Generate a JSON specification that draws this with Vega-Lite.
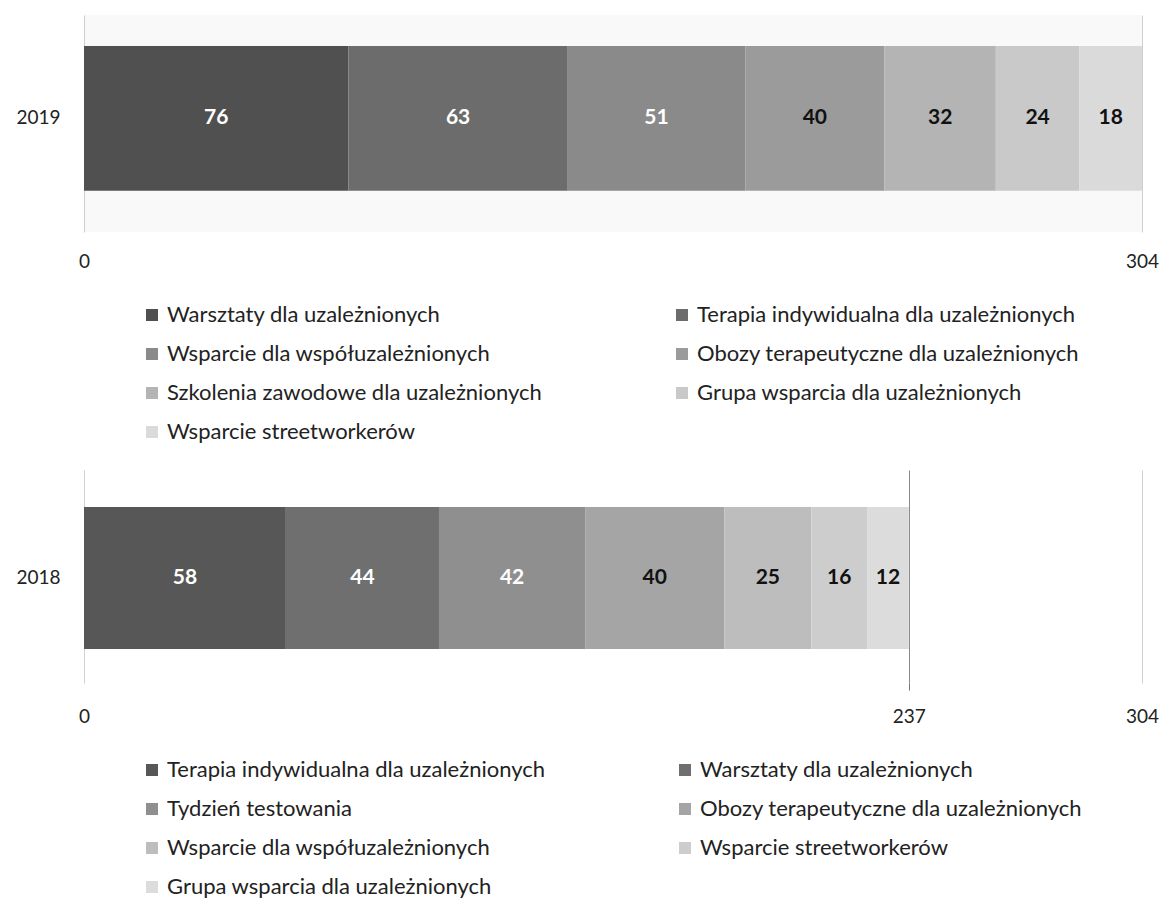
{
  "$schema": "https://vega.github.io/schema/vega-lite/v6.json",
  "background": "white",
  "padding": {"left": 15, "top": 15, "right": 5, "bottom": 5},
  "spacing": 27,
  "config": {
    "font": "Lato",
    "view": {"stroke": null},
    "axis": {"labelFont": "Lato", "labelFontSize": 19, "labelColor": "#222"},
    "legend": {
      "orient": "none",
      "direction": "horizontal",
      "legendX": 57,
      "legendY": 289,
      "columns": 2,
      "rowPadding": 17,
      "symbolType": "square",
      "symbolSize": 144,
      "symbolStrokeWidth": 0,
      "labelFont": "Lato",
      "labelFontSize": 22,
      "labelColor": "#222",
      "labelLimit": 700,
      "labelOffset": 4,
      "title": null
    }
  },
  "resolve": {"scale": {"color": "independent", "x": "independent", "y": "independent"}},
  "vconcat": [
    {
      "width": 1058,
      "height": 217,
      "view": {"fill": "#f9f9f9", "stroke": null},
      "data": {"values": [
        {"year": "2019", "cat": "Warsztaty dla uzależnionych", "value": 76},
        {"year": "2019", "cat": "Terapia indywidualna dla uzależnionych", "value": 63},
        {"year": "2019", "cat": "Wsparcie dla współuzależnionych", "value": 51},
        {"year": "2019", "cat": "Obozy terapeutyczne dla uzależnionych", "value": 40},
        {"year": "2019", "cat": "Szkolenia zawodowe dla uzależnionych", "value": 32},
        {"year": "2019", "cat": "Grupa wsparcia dla uzależnionych", "value": 24},
        {"year": "2019", "cat": "Wsparcie streetworkerów", "value": 18}
      ]},
      "encoding": {
        "y": {"field": "year", "type": "nominal", "title": null,
          "scale": {"paddingInner": 0.2, "paddingOuter": 0.2, "align": 0.43},
          "axis": {"domain": false, "ticks": false, "labelPadding": 24, "labelFontSize": 19}}
      },
      "layer": [
        {
          "mark": {"type": "bar"},
          "encoding": {
            "x": {"field": "value", "type": "quantitative", "stack": "zero", "title": null,
              "scale": {"domain": [0, 304], "nice": false},
              "axis": {"values": [0, 304], "grid": true, "gridColor": "#cfcfcf", "domain": false, "ticks": false, "labelFlush": false, "labelPadding": 20}},
            "color": {"field": "cat", "type": "nominal",
              "scale": {
                "domain": ["Warsztaty dla uzależnionych", "Terapia indywidualna dla uzależnionych", "Wsparcie dla współuzależnionych", "Obozy terapeutyczne dla uzależnionych", "Szkolenia zawodowe dla uzależnionych", "Grupa wsparcia dla uzależnionych", "Wsparcie streetworkerów"],
                "range": ["#505050", "#6c6c6c", "#8a8a8a", "#9b9b9b", "#b4b4b4", "#c9c9c9", "#dadada"]
              },
              "legend": {"columnPadding": 129}},
            "order": {"field": "value", "sort": "descending"}
          }
        },
        {
          "transform": [
            {"stack": "value", "groupby": ["year"], "sort": [{"field": "value", "order": "descending"}], "as": ["v0", "v1"]},
            {"fold": ["v0", "v1"], "as": ["edge", "pos"]},
            {"aggregate": [{"op": "mean", "field": "pos", "as": "mid"}], "groupby": ["year", "cat", "value"]}
          ],
          "mark": {"type": "text", "fontWeight": "bold", "fontSize": 21, "font": "Lato"},
          "encoding": {
            "x": {"field": "mid", "type": "quantitative", "title": null},
            "text": {"field": "value", "type": "quantitative"},
            "color": {"condition": {"test": "datum.value > 41", "value": "white"}, "value": "#111"}
          }
        }
      ]
    },
    {
      "width": 1058,
      "height": 213,
      "data": {"values": [
        {"year": "2018", "cat": "Terapia indywidualna dla uzależnionych", "value": 58},
        {"year": "2018", "cat": "Warsztaty dla uzależnionych", "value": 44},
        {"year": "2018", "cat": "Tydzień testowania", "value": 42},
        {"year": "2018", "cat": "Obozy terapeutyczne dla uzależnionych", "value": 40},
        {"year": "2018", "cat": "Wsparcie dla współuzależnionych", "value": 25},
        {"year": "2018", "cat": "Wsparcie streetworkerów", "value": 16},
        {"year": "2018", "cat": "Grupa wsparcia dla uzależnionych", "value": 12}
      ]},
      "encoding": {
        "y": {"field": "year", "type": "nominal", "title": null,
          "scale": {"paddingInner": 0.2, "paddingOuter": 0.2, "align": 0.52},
          "axis": {"domain": false, "ticks": false, "labelPadding": 24, "labelFontSize": 19}}
      },
      "layer": [
        {
          "mark": {"type": "bar"},
          "encoding": {
            "x": {"field": "value", "type": "quantitative", "stack": "zero", "title": null,
              "scale": {"domain": [0, 304], "nice": false},
              "axis": {"values": [0, 237, 304], "grid": true,
                "gridColor": {"condition": {"test": "datum.value === 237", "value": "#8a8a8a"}, "value": "#d0d0d0"},
                "domain": false, "ticks": true, "tickSize": 7,
                "tickColor": {"condition": {"test": "datum.value === 237", "value": "#777777"}, "value": "transparent"},
                "labelFlush": false, "labelPadding": 17}},
            "color": {"field": "cat", "type": "nominal",
              "scale": {
                "domain": ["Terapia indywidualna dla uzależnionych", "Warsztaty dla uzależnionych", "Tydzień testowania", "Obozy terapeutyczne dla uzależnionych", "Wsparcie dla współuzależnionych", "Wsparcie streetworkerów", "Grupa wsparcia dla uzależnionych"],
                "range": ["#575757", "#6f6f6f", "#8f8f8f", "#a5a5a5", "#bdbdbd", "#cdcdcd", "#dcdcdc"]
              },
              "legend": {"columnPadding": 128}},
            "order": {"field": "value", "sort": "descending"}
          }
        },
        {
          "transform": [
            {"stack": "value", "groupby": ["year"], "sort": [{"field": "value", "order": "descending"}], "as": ["v0", "v1"]},
            {"fold": ["v0", "v1"], "as": ["edge", "pos"]},
            {"aggregate": [{"op": "mean", "field": "pos", "as": "mid"}], "groupby": ["year", "cat", "value"]}
          ],
          "mark": {"type": "text", "fontWeight": "bold", "fontSize": 21, "font": "Lato"},
          "encoding": {
            "x": {"field": "mid", "type": "quantitative", "title": null},
            "text": {"field": "value", "type": "quantitative"},
            "color": {"condition": {"test": "datum.value > 41", "value": "white"}, "value": "#111"}
          }
        }
      ]
    }
  ]
}
